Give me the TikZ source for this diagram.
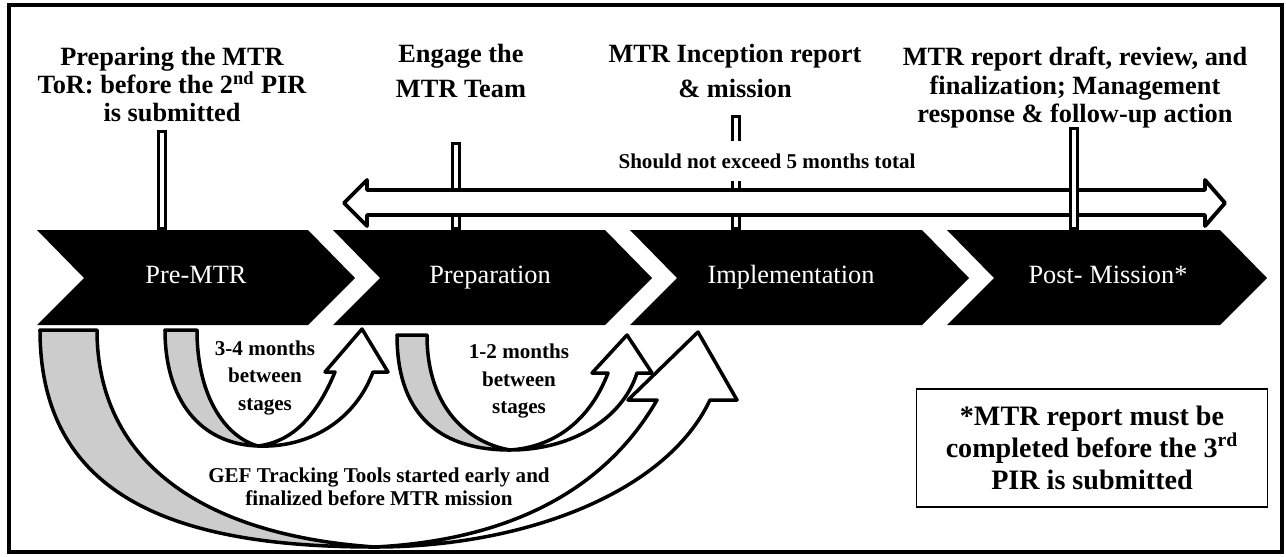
\documentclass[tikz,border=0pt]{standalone}
\usepackage{fontspec}
\setmainfont{Liberation Serif}
\usetikzlibrary{positioning}
\definecolor{ribbongray}{RGB}{204,204,204}

\begin{document}
\begin{tikzpicture}[x=0.02cm, y=-0.02cm,
    stage/.style={text=white, font=\fontsize{15}{18}\selectfont, text height=1.6ex, text depth=.3ex, minimum height=1.9cm},
    milestone/.style={font=\bfseries\fontsize{15}{16}\selectfont, align=center, anchor=north, inner sep=0pt},
    tick/.style={line width=1.6pt, double=white, double distance=2.5pt, line cap=rect,
                 shorten <=2.85pt, shorten >=2.85pt},
    gaplabel/.style={font=\bfseries\fontsize{12}{15.4}\selectfont, align=center},
    ribbon/.style={draw=black, line width=2pt, line join=round}]
  \useasboundingbox (0,0) rectangle (1286,556);
  \draw[line width=2pt] (9,5) rectangle (1282,552);

  %% stages
  \foreach \lft/\rgt in {37/308, 333/605, 630/922, 947/1220}
    \fill (\lft,230) -- (\rgt,230) -- (\rgt+47,278) -- (\rgt,325) -- (\lft,325) -- (\lft+47,278) -- cycle;
  \node[stage] (prem) at (196,278) {Pre-MTR};
  \node[stage] (prep) at (490,278) {Preparation};
  \node[stage] (impl) at (791,278) {Implementation};
  \node[stage] (post) at (1108,278) {Post- Mission*};

  %% milestones
  \node[milestone] (tor) at (172,47) {Preparing the MTR\\ToR: before the 2\textsuperscript{nd} PIR\\is submitted};
  \node[milestone, font=\bfseries\fontsize{15}{20}\selectfont] (team) at (461,44) {Engage the\\MTR Team};
  \node[milestone, font=\bfseries\fontsize{15}{20}\selectfont] (incep) at (735,44) {MTR Inception report\\\& mission};
  \node[milestone] (final) at (1075,47) {MTR report draft, review, and\\finalization; Management\\response \& follow-up action};

  \coordinate (t1) at (162,130);
  \coordinate (t2) at (456,142);
  \coordinate (t3) at (736,115);
  \coordinate (t4) at (1074,127);
  \draw[tick] (t1) -- (t1 |- prem.north);
  \draw[tick] (t2) -- (t2 |- prep.north);
  \draw[tick] (t3) -- (t3 |- impl.north);
  \node[font=\bfseries\fontsize{12}{14}\selectfont, fill=white, inner xsep=3pt, minimum height=0.8cm] (total) at (767,161) {Should not exceed 5 months total};

  %% 5 months arrow
  \draw[line width=2.2pt, fill=white, line join=round] (344,203) -- (367,180) -- (367,190) -- (1205,190) -- (1205,180)
    -- (1225,203) -- (1205,226) -- (1205,215) -- (367,215) -- (367,226) -- cycle;
  \draw[tick] (t4) -- (t4 |- post.north);

  %% curved arrows (back in gray, front in white)
  \draw[ribbon, fill=ribbongray] (165,330) .. controls (165,400) and (200,444) .. (258,446)
    .. controls (228,438) and (197,400) .. (197,330) -- cycle;
  \draw[ribbon, fill=white] (258,446) .. controls (310,448) and (355,420) .. (373,372) -- (388,372) -- (362,329)
    -- (325,372) -- (335,372) .. controls (315,420) and (290,442) .. (258,446) -- cycle;
  \draw[ribbon, fill=ribbongray] (397,335) .. controls (397,420) and (445,450) .. (510,450)
    .. controls (470,443) and (427,410) .. (427,335) -- cycle;
  \draw[ribbon, fill=white] (510,450) .. controls (570,450) and (622,420) .. (637,373) -- (652,373) -- (627,335)
    -- (592,373) -- (608,373) .. controls (590,420) and (555,447) .. (510,450) -- cycle;
  \draw[ribbon, fill=ribbongray] (40,330) .. controls (40,500) and (180,547) .. (375,547)
    .. controls (200,535) and (97,460) .. (97,330) -- cycle;
  \draw[ribbon, fill=white] (375,547) .. controls (520,547) and (665,495) .. (710,400) -- (737,400) -- (698,332)
    -- (628,400) -- (657,400) .. controls (605,490) and (510,540) .. (375,547) -- cycle;

  \node[gaplabel] (gap1) at (265,378) {3-4 months\\between\\stages};
  \node[gaplabel] (gap2) at (519,381) {1-2 months\\between\\stages};
  \node[gaplabel, font=\bfseries\fontsize{12}{13}\selectfont] (gef) at (379,487) {GEF Tracking Tools started early and\\finalized before MTR mission};

  %% note
  \node[draw, line width=0.8pt, minimum width=7.02cm, minimum height=2.36cm, align=center,
        font=\bfseries\fontsize{16}{18.2}\selectfont] (note) at (1092,448)
        {*MTR report must be\\completed before the 3\textsuperscript{rd}\\PIR is submitted};
\end{tikzpicture}
\end{document}
